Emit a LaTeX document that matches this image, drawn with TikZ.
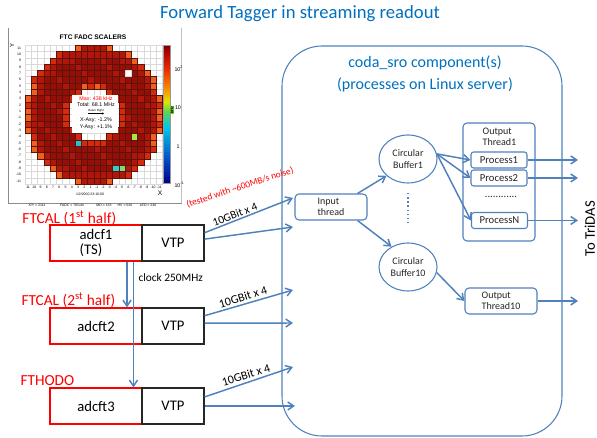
\documentclass[tikz,border=0pt]{standalone}
\usepackage{fontspec}
\setmainfont{Carlito}
\newfontfamily\heatfont{Liberation Sans}
\usetikzlibrary{arrows.meta,shapes.geometric}

\tikzset{every picture/.style={line width=0.75pt}}

\definecolor{lineblue}{RGB}{79,129,189}
\definecolor{titleblue}{RGB}{0,112,192}
\definecolor{boxred}{RGB}{255,0,0}
\definecolor{txtgray}{RGB}{38,38,38}
\definecolor{cellline}{RGB}{90,20,10}
\definecolor{hot0}{RGB}{150,14,8}
\definecolor{hot1}{RGB}{178,22,10}
\definecolor{hot2}{RGB}{212,42,14}
\definecolor{hot3}{RGB}{238,96,28}
\definecolor{cbA}{RGB}{110,0,0}
\definecolor{cbB}{RGB}{175,0,0}
\definecolor{cbC}{RGB}{235,45,0}
\definecolor{cbD}{RGB}{250,145,0}
\definecolor{cbE}{RGB}{225,230,0}
\definecolor{cbF}{RGB}{90,215,80}
\definecolor{cbG}{RGB}{0,200,235}
\definecolor{cbH}{RGB}{0,95,210}
\definecolor{cbI}{RGB}{0,0,135}

\tikzset{
	flow/.style={draw=lineblue,line width=1.1pt,-{Straight Barb[length=4.5pt,width=6pt]}},
	adcbox/.style={draw=boxred,line width=0.9pt,minimum width=69pt,minimum height=27pt,inner sep=0pt,align=left,font=\fontsize{11}{11.5}\selectfont},
	vtpbox/.style={draw=black!85,line width=0.9pt,minimum width=46.5pt,minimum height=27pt,inner sep=0pt,font=\fontsize{11}{13}\selectfont},
	thrbox/.style={draw=lineblue,line width=0.8pt,rounded corners=3pt,fill=white,text=txtgray,align=left,inner sep=0pt,font=\fontsize{7.5}{8.5}\selectfont},
	bufnode/.style={ellipse,draw=lineblue,line width=0.8pt,minimum width=43.5pt,minimum height=36pt,inner sep=0pt,align=center,text=txtgray,font=\fontsize{7.5}{9}\selectfont},
	procbox/.style={draw=lineblue,line width=0.8pt,rounded corners=2pt,fill=white,text=txtgray,minimum width=42pt,minimum height=12pt,inner sep=0pt,font=\fontsize{8}{9}\selectfont},
	redlbl/.style={text=boxred,font=\fontsize{11.5}{13}\selectfont,anchor=west,inner sep=0pt},
	linklbl/.style={font=\fontsize{9}{10}\selectfont,inner sep=0pt},
	heatlbl/.style={font=\heatfont\fontsize{2.6}{3}\selectfont,inner sep=0pt},
	heattxt/.style={font=\heatfont\fontsize{4}{4.5}\selectfont,inner sep=0pt},
	heatcell/.style={draw=cellline,line width=0.15pt},
}
\def\rowhw{{3,6,7,8,9,10,10,10,11,11,11}}

\begin{document}
\begin{tikzpicture}[x=0.75pt,y=0.75pt,yscale=-1,xscale=1]
	%set diagram to the page size
	\useasboundingbox (0,0) rectangle (597,438);

	% Text Node
	\draw (300,14) node[font=\fontsize{14}{16}\selectfont,text=titleblue] (title) {Forward Tagger in streaming readout};

	%Shape: Frame of the scaler picture
	\draw[black!45,line width=0.6pt] (8,28) -- (8,203) -- (182,203);
	\draw[black!25,line width=0.4pt] (181,28) -- (181,203);
	% Text Node
	\draw (93,37) node[font=\heatfont\bfseries\fontsize{5}{6}\selectfont,inner sep=0pt] (heattitle) {FTC FADC SCALERS};

	%Grid of the scaler map
	\foreach \k in {0,...,22}{
		\draw[black!15,line width=0.2pt] ({25+\k*6.25},45) -- ({25+\k*6.25},184.04);
		\draw[black!15,line width=0.2pt] (25,{45+\k*6.32}) -- (162.5,{45+\k*6.32});
	}
	%Cells of the scaler map
	\foreach \i in {0,...,21}{
		\foreach \j in {0,...,21}{
			\pgfmathtruncatemacro{\jj}{\j<11 ? \j : 21-\j}
			\pgfmathsetmacro{\hw}{\rowhw[\jj]}
			\pgfmathsetmacro{\rad}{sqrt((\i-10.5)^2+(\j-10.5)^2)}
			\pgfmathtruncatemacro{\inring}{and(abs(\i-10.5)<\hw,\rad>4.0)}
			\ifnum\inring=1
				\pgfmathtruncatemacro{\lvl}{abs(\i-10.5)>\hw-1 ? (mod(\i+\j,3)==0 ? 2 : 3) : (\rad<4.9 ? 2 : (\rad>9.4 ? 1 : (mod(\i*7+\j*3,5)==0 ? 1 : 0)))}
				\filldraw[heatcell,fill=hot\lvl] ({25+\i*6.25},{45+\j*6.32}) rectangle ++(6.25,6.32);
			\fi
		}
	}
	%odd cells
	\filldraw[heatcell,fill={rgb,255:red,40;green,190;blue,210}] ({25+8*6.25},{45+15*6.32}) rectangle ++(6.25,6.32);
	\filldraw[heatcell,fill={rgb,255:red,170;green,230;blue,60}] ({25+17*6.25},{45+14*6.32}) rectangle ++(6.25,6.32);
	\filldraw[heatcell,fill={rgb,255:red,60;green,200;blue,200}] ({25+14*6.25},{45+19*6.32}) rectangle ++(6.25,6.32);
	\filldraw[heatcell,fill={rgb,255:red,120;green,220;blue,120}] ({25+15*6.25},{45+19*6.32}) rectangle ++(6.25,6.32);
	\filldraw[heatcell,fill=hot3] ({25+9*6.25},{45+6*6.32}) rectangle ++(6.25,6.32);
	\filldraw[heatcell,fill=hot3] ({25+11*6.25},{45+6*6.32}) rectangle ++(6.25,6.32);
	\filldraw[fill=white,draw=black!15,line width=0.2pt] ({25+16*6.25},{45+4*6.32}) rectangle ++(6.25,6.32);

	%Axis labels of the scaler map
	\foreach \lab [count=\n from 0] in {11,10,9,8,7,6,5,4,3,2,1,-1,-2,-3,-4,-5,-6,-7,-8,-9,-10,-11}{
		\draw (21.5,{48.16+\n*6.32}) node[heatlbl,anchor=east] (rowlbl\n) {\lab};
		\draw ({28.1+\n*6.25},187.5) node[heatlbl] (collbl\n) {\lab};
	}
	\draw (12,46) node[heatlbl,rotate=90,font=\heatfont\fontsize{4.5}{5}\selectfont] (ylbl) {Y};
	\draw (160,193) node[heatlbl,font=\heatfont\fontsize{5}{6}\selectfont] (xlbl) {X};
	\draw (90,194) node[heatlbl] (datelbl) {1/2/2000 23:10:00};

	%Shape: Stat box
	\fill[white] (72,95.5) rectangle (118,133.3);
	% Text Node
	\draw (96,98.5) node[heattxt,text=boxred] (maxlbl) {Max: 438 kHz};
	% Text Node
	\draw (96,105) node[heattxt] (totlbl) {Total: 68.1 MHz};
	% Text Node
	\draw (96,110.8) node[heatlbl,font=\heatfont\fontsize{2.2}{2.5}\selectfont] (beamlbl) {Beam Right};
	\draw[line width=0.3pt,-{Stealth[length=1.5pt,width=1.5pt]}] (88,113.5) -- (104,113.5);
	% Text Node
	\draw (96,120) node[heattxt] (xasy) {X-Asy: -1.2\%};
	% Text Node
	\draw (96,127) node[heattxt] (yasy) {Y-Asy: +1.1\%};

	%Colour bar
	\foreach \ya/\yb/\colA/\colB in {45/52/cbA/cbB,52/70/cbB/cbC,70/90/cbC/cbD,90/102/cbD/cbE,102/112/cbE/cbF,112/128/cbF/cbG,128/155/cbG/cbH,155/183/cbH/cbI}{
		\foreach \s in {0,...,9}{
			\pgfmathsetmacro{\ys}{\ya+(\yb-\ya)*\s/10}
			\pgfmathtruncatemacro{\pc}{\s*10+5}
			\fill[\colB!\pc!\colA] (163,\ys) rectangle (170.5,{\ys+(\yb-\ya)/10+0.2});
		}
	}
	\draw[black!40,line width=0.3pt] (163,45) rectangle (170.5,183);
	\draw (174,69) node[heattxt,anchor=west] (cb2) {10\textsuperscript{2}};
	\draw (174.5,108) node[heattxt,anchor=west] (cb1) {10};
	\draw (176,147) node[heattxt,anchor=west] (cb0) {1};
	\draw (174,185) node[heattxt,anchor=west] (cbm1) {10\textsuperscript{-1}};
	\draw (172,110) node[heatlbl,rotate=90,fill={rgb,255:red,110;green,200;blue,60},inner sep=0.4pt,font=\heatfont\bfseries\fontsize{3}{3.5}\selectfont] (khz) {kHz};

	%Status line
	\draw (37,205) node[heatlbl] (st1) {X/Y = 2111};
	\draw (72,205) node[heatlbl] (st2) {FADC = 70/144};
	\draw (104,205) node[heatlbl] (st3) {MD = 133};
	\draw (125,205) node[heatlbl] (st4) {HV = 520};
	\draw (148,205) node[heatlbl] (st5) {LED = 230};

	%Shape: Rounded Rect (server)
	\draw[lineblue,line width=0.8pt,rounded corners=30pt] (282,46) rectangle (562,436);
	% Text Node
	\draw (425,63) node[font=\fontsize{12}{14}\selectfont,text=titleblue] (sro1) {coda\_sro component(s)};
	% Text Node
	\draw (425,85) node[font=\fontsize{12}{14}\selectfont,text=titleblue] (sro2) {(processes on Linux server)};

	% Text Node
	\draw (22,218) node[redlbl] (ftcal1) {FTCAL (1\textsuperscript{st} half)};
	% Text Node
	\draw (21,300) node[redlbl] (ftcal2) {FTCAL (2\textsuperscript{st} half)};
	% Text Node
	\draw (20,381) node[redlbl] (fthodo) {FTHODO};

	%Shape: Rectangle
	\draw (96,243) node[adcbox] (adcf1) {adcf1\\(TS)};
	\draw (173,243) node[vtpbox] (vtp1) {VTP};
	%Shape: Rectangle
	\draw (96,326) node[adcbox] (adcft2) {adcft2};
	\draw (173,326) node[vtpbox] (vtp2) {VTP};
	%Shape: Rectangle
	\draw (96,406) node[adcbox] (adcft3) {adcft3};
	\draw (173,406) node[vtpbox] (vtp3) {VTP};

	%Straight Lines (clock)
	\coordinate (clkA) at (127,0);
	\coordinate (clkB) at (133.5,0);
	\draw[flow] (adcf1.south -| clkA) -- (adcft2.north -| clkA);
	\draw[flow] (adcf1.south -| clkB) -- (adcft3.north -| clkB);
	% Text Node
	\draw (138,278) node[anchor=west,inner sep=0pt,font=\fontsize{8.5}{10}\selectfont] (clklbl) {clock 250MHz};

	%Straight Lines (links)
	\coordinate (e1a) at (293,198);
	\coordinate (e1b) at (293,227);
	\coordinate (e2a) at (293,290);
	\coordinate (e2b) at (293,323);
	\coordinate (e3a) at (293,367);
	\coordinate (e3b) at (295,406);
	\draw[flow] (vtp1.18) -- (e1a);
	\draw[flow] (vtp1.7) -- (e1b);
	\draw[flow] (vtp2.18) -- (e2a);
	\draw[flow] (vtp2.5) -- (e2b);
	\draw[flow] (vtp3.16) -- (e3a);
	\draw[flow] (vtp3.east) -- (e3b);
	% Text Node
	\draw (240,187.5) node[linklbl,rotate=18,text=boxred,font=\fontsize{7}{8}\selectfont] (testlbl) {(tested with \textasciitilde600MB/s noise)};
	% Text Node
	\draw (235,214.5) node[linklbl,rotate=21,font=\fontsize{8.5}{10}\selectfont] (gb1) {10GBit x 4};
	% Text Node
	\draw (243,297) node[linklbl,rotate=17] (gb2) {10GBit x 4};
	% Text Node
	\draw (246,375) node[linklbl,rotate=17] (gb3) {10GBit x 4};

	%Shape: threads and buffers
	\draw (331,207) node[thrbox,minimum width=54pt,minimum height=19.5pt] (inp) {Input\\thread};
	\draw (408,159) node[bufnode] (buf1) {Circular\\Buffer1};
	\draw (408,267) node[bufnode] (buf10) {Circular\\Buffer10};
	\draw[lineblue,dotted,line width=1.1pt] (408,193) -- (408,226);
	\draw (499,182) node[thrbox,minimum width=54pt,minimum height=88.5pt] (ot1) {};
	\draw (499.5,137) node[thrbox,draw=none,fill=none] (ot1lbl) {Output\\Thread1};
	\draw (499,160) node[procbox] (proc1) {Process1};
	\draw (499,178) node[procbox] (proc2) {Process2};
	\draw (501,197) node[inner sep=0pt,text=txtgray,font=\fontsize{8}{9}\selectfont] (pdots) {............};
	\draw (499.5,220.5) node[procbox] (procN) {ProcessN};
	\draw (501,301) node[thrbox,minimum width=54pt,minimum height=19.5pt] (ot10) {Output\\Thread10};

	%Straight Lines (inside server)
	\draw[flow] (inp.27) -- (buf1.218);
	\draw[flow] (inp.333) -- (buf10.129);
	\draw[flow] (buf1.10) -- (proc1.west);
	\draw[flow] (buf1.10) -- (proc2.west);
	\draw[flow] (buf1.10) -- (procN.west);
	\draw[flow] (buf10.-11) -- (ot10.west);

	%Straight Lines (to TriDAS)
	\coordinate (outx) at (578,0);
	\draw[flow] (proc1.east) -- (proc1.east -| outx);
	\draw[flow] (proc2.east) -- (proc2.east -| outx);
	\draw[flow] (procN.east) -- (procN.east -| outx);
	\draw[flow] (ot10.east) -- (ot10.east -| outx);
	% Text Node
	\draw (590,229) node[rotate=90,inner sep=0pt,font=\fontsize{11}{13}\selectfont] (tridas) {To TriDAS};

\end{tikzpicture}
\end{document}
